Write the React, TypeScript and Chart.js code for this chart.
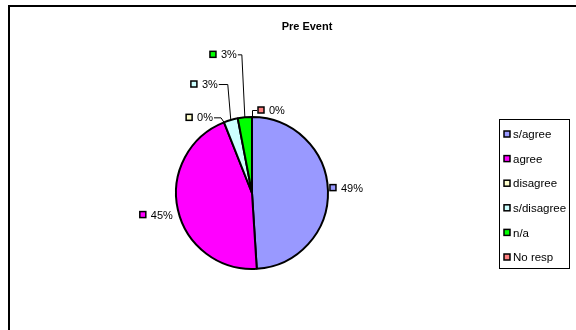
import { useEffect, useRef } from 'react';
import { Chart, registerables } from 'chart.js';

Chart.register(...registerables);

const title = 'Pre Event';
const categories = ['s/agree', 'agree', 'disagree', 's/disagree', 'n/a', 'No resp'];
const percentValues = [49, 45, 0, 3, 3, 0];
const sliceColors = ['#9999FF', '#FF00FF', '#FFFFCC', '#CCFFFF', '#00FF00', '#FF8080'];
// label offsets from each slice's rim point (layout only)
const labelOffsets: [number, number][] = [[2, -3], [-5, 5], [-11, -5], [-13, -36], [-8, -63], [6, -7]];
const labelLeaders = [false, false, true, true, true, true];

const FONT = '11px "Liberation Sans", Arial, sans-serif';

const decorPlugin = {
  id: 'excelDecor',
  afterDraw(chart: any) {
    const ctx: CanvasRenderingContext2D = chart.ctx;
    ctx.save();
    // outer border
    ctx.strokeStyle = '#000';
    ctx.lineWidth = 2;
    ctx.strokeRect(9, 6, 700, 500);

    // title
    ctx.fillStyle = '#000';
    ctx.font = 'bold 11px "Liberation Sans", Arial, sans-serif';
    ctx.textAlign = 'center';
    ctx.textBaseline = 'middle';
    ctx.fillText(title, 307, 27);

    const drawKey = (x: number, y: number, color: string) => {
      ctx.fillStyle = color;
      ctx.fillRect(x, y - 3, 6, 6);
      ctx.strokeStyle = '#000';
      ctx.lineWidth = 1.5;
      ctx.strokeRect(x, y - 3, 6, 6);
    };

    // data labels
    const meta = chart.getDatasetMeta(0);
    ctx.font = FONT;
    meta.data.forEach((arc: any, i: number) => {
      const p = arc.getProps(['x', 'y', 'startAngle', 'endAngle', 'outerRadius'], true);
      const mid = (p.startAngle + p.endAngle) / 2;
      const ax = p.x + Math.cos(mid) * p.outerRadius;
      const ay = p.y + Math.sin(mid) * p.outerRadius;
      const isLeft = labelOffsets[i][0] < 0;
      const text = percentValues[i] + '%';
      const tw = ctx.measureText(text).width;
      const w = 6 + 5 + tw;
      const nx = ax + labelOffsets[i][0];
      const ny = ay + labelOffsets[i][1];
      const left = isLeft ? nx - w : nx;
      if (labelLeaders[i]) {
        ctx.strokeStyle = '#000';
        ctx.lineWidth = 1;
        ctx.beginPath();
        if (isLeft) {
          ctx.moveTo(nx + 1, ny + 0.5);
          ctx.lineTo(ax - 3, ny + 0.5);
          ctx.lineTo(ax, ay);
        } else {
          ctx.moveTo(ax + 0.5, ay);
          ctx.lineTo(ax + 0.5, ny + 0.5);
          ctx.lineTo(nx - 1, ny + 0.5);
        }
        ctx.stroke();
      }
      drawKey(left, ny, sliceColors[i]);
      ctx.fillStyle = '#000';
      ctx.font = FONT;
      ctx.textAlign = 'left';
      ctx.textBaseline = 'middle';
      ctx.fillText(text, left + 11, ny + 1);
    });

    // legend
    const lx = 499, ly = 119, lw = 70, lh = 149;
    ctx.fillStyle = '#fff';
    ctx.fillRect(lx, ly, lw, lh);
    ctx.strokeStyle = '#000';
    ctx.lineWidth = 1;
    ctx.strokeRect(lx + 0.5, ly + 0.5, lw, lh);
    const step = 24.6;
    categories.forEach((c, i) => {
      const cy = ly + 15 + step * i;
      drawKey(lx + 5, cy, sliceColors[i]);
      ctx.fillStyle = '#000';
      ctx.font = '11.5px "Liberation Sans", Arial, sans-serif';
      ctx.textAlign = 'left';
      ctx.textBaseline = 'middle';
      ctx.fillText(c, lx + 14, cy + 1);
    });
    ctx.restore();
  },
};

export default function App() {
  const ref = useRef<HTMLCanvasElement>(null);
  useEffect(() => {
    if (!ref.current) return;
    const chart = new Chart(ref.current, {
      type: 'pie',
      data: {
        labels: categories,
        datasets: [
          {
            data: percentValues,
            backgroundColor: sliceColors,
            borderColor: '#000',
            borderWidth: 2,
          },
        ],
      },
      options: {
        responsive: false,
        animation: false,
        layout: { padding: { left: 175, right: 247, top: 116, bottom: 60 } },
        plugins: {
          legend: { display: false },
          title: { display: false },
          tooltip: { enabled: false },
        },
      },
      plugins: [decorPlugin],
    });
    return () => chart.destroy();
  }, []);
  return (
    <div style={{ position: 'absolute', left: 0, top: 0, width: 576, height: 330, background: '#fff' }}>
      <canvas ref={ref} width={576} height={330} style={{ width: 576, height: 330, display: 'block' }} />
    </div>
  );
}
